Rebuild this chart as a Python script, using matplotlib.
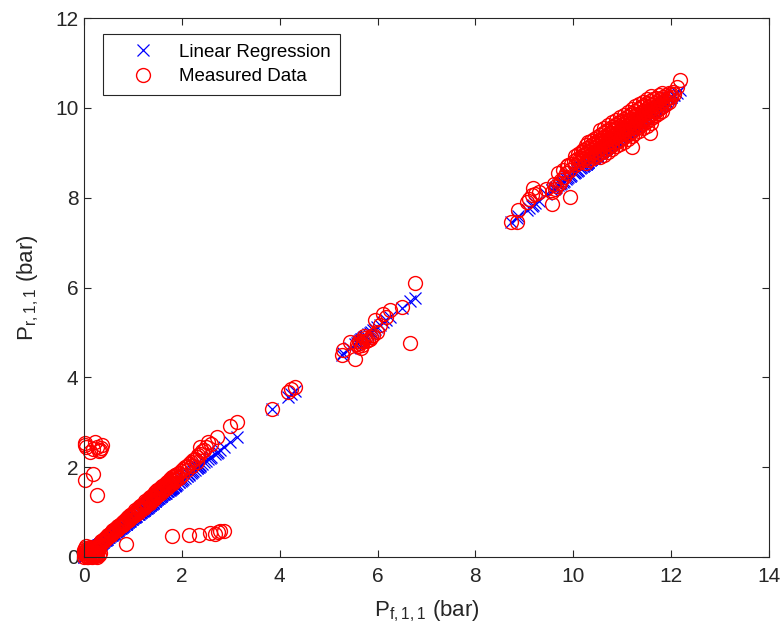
import numpy as np
import matplotlib
matplotlib.use("Agg")
import matplotlib.pyplot as plt

plt.rcParams["font.family"] = ["Liberation Sans", "DejaVu Sans"]
plt.rcParams["mathtext.fontset"] = "custom"
plt.rcParams["mathtext.rm"] = "Liberation Sans"

# ---- measured pressure pairs (bar) ----
# cluster around the origin
zero_x = [0.00, 0.02, 0.04, 0.06, 0.08, 0.10, 0.12, 0.15, 0.18, 0.20, 0.22, 0.25,
          0.28, 0.30, 0.02, 0.05, 0.08, 0.12, 0.16, 0.20, 0.24, 0.00, 0.03, 0.10,
          0.33, 0.30, 0.26, 0.04, 0.07, 0.11, 0.14, 0.17, 0.19, 0.23, 0.27, 0.29,
          0.31, 0.01, 0.13, 0.21, 0.09, 0.06, 0.25]
zero_y = [0.00, 0.05, 0.02, 0.10, 0.15, 0.03, 0.08, 0.12, 0.05, 0.18, 0.10, 0.15,
          0.20, 0.22, 0.20, 0.25, 0.00, 0.22, 0.00, 0.02, 0.05, 0.15, 0.12, 0.18,
          0.10, 0.04, 0.00, 0.08, 0.18, 0.14, 0.03, 0.16, 0.09, 0.20, 0.08, 0.15,
          0.18, 0.12, 0.21, 0.13, 0.06, 0.00, 0.02]

# low-pressure operating band
low_x = [0.30, 0.34, 0.38, 0.42, 0.46, 0.50, 0.54, 0.58, 0.62, 0.66, 0.70, 0.74,
         0.78, 0.82, 0.86, 0.90, 0.94, 0.98, 1.02, 1.06, 1.10, 1.14, 1.18, 1.22,
         1.26, 1.30, 1.34, 1.38, 1.42, 1.46, 1.50, 1.54, 1.58, 1.62, 1.66, 1.70,
         1.74, 1.78, 1.82, 1.86, 1.90, 1.94, 1.98, 2.02, 2.06, 2.10, 2.14, 2.18,
         2.22, 2.26, 2.30, 2.34, 2.38, 2.42, 2.46,
         0.32, 0.38, 0.44, 0.50, 0.56, 0.62, 0.68, 0.74, 0.80, 0.86, 0.92, 0.98,
         1.04, 1.10, 1.16, 1.22, 1.28, 1.34, 1.40, 1.46, 1.52, 1.58, 1.64, 1.70,
         1.76, 1.82, 1.88, 1.94, 2.00, 2.10, 2.20, 2.30,
         0.35, 0.40, 0.45, 0.50, 0.55, 0.60, 0.65, 0.70, 0.75, 0.80, 0.85, 0.90,
         0.95, 1.00, 1.05, 1.10, 1.15, 1.20, 1.25, 1.30, 1.35, 1.40, 1.45, 1.50,
         1.55, 1.60, 1.65, 1.70, 1.75, 1.80, 1.85,
         0.37, 0.42, 0.47, 0.52, 0.57, 0.62, 0.67, 0.72, 0.77, 0.82, 0.87, 0.92,
         0.97, 1.02, 1.07, 1.12, 1.17, 1.22, 1.27, 1.32, 1.37, 1.42, 1.47, 1.52,
         1.57, 1.62, 1.67, 1.72, 1.77, 1.82, 1.87,
         2.37, 2.50, 2.54, 2.60, 2.71, 2.98, 3.12]
low_y = [0.30, 0.33, 0.37, 0.41, 0.45, 0.49, 0.52, 0.57, 0.60, 0.64, 0.68, 0.72,
         0.76, 0.80, 0.83, 0.88, 0.91, 0.95, 0.99, 1.03, 1.07, 1.10, 1.15, 1.18,
         1.22, 1.26, 1.30, 1.34, 1.38, 1.41, 1.46, 1.49, 1.54, 1.57, 1.61, 1.65,
         1.69, 1.72, 1.77, 1.80, 1.84, 1.88, 1.92, 1.96, 2.00, 2.03, 2.08, 2.11,
         2.15, 2.19, 2.23, 2.27, 2.30, 2.35, 2.38,
         0.27, 0.33, 0.39, 0.45, 0.50, 0.56, 0.61, 0.67, 0.72, 0.78, 0.83, 0.89,
         0.94, 0.99, 1.05, 1.10, 1.16, 1.21, 1.27, 1.32, 1.38, 1.43, 1.49, 1.54,
         1.60, 1.65, 1.71, 1.76, 1.82, 1.93, 2.02, 2.12,
         0.35, 0.40, 0.45, 0.50, 0.54, 0.59, 0.64, 0.69, 0.74, 0.79, 0.84, 0.89,
         0.94, 0.99, 1.04, 1.09, 1.14, 1.19, 1.24, 1.29, 1.34, 1.39, 1.44, 1.49,
         1.53, 1.58, 1.63, 1.68, 1.73, 1.78, 1.83,
         0.34, 0.39, 0.44, 0.48, 0.53, 0.58, 0.62, 0.67, 0.72, 0.76, 0.81, 0.86,
         0.90, 0.95, 1.00, 1.04, 1.09, 1.13, 1.18, 1.23, 1.27, 1.32, 1.37, 1.41,
         1.46, 1.51, 1.55, 1.60, 1.65, 1.69, 1.74,
         2.45, 2.45, 2.57, 2.52, 2.68, 2.92, 3.01]

# scattered readings off the main trend
outlier_x = [0.02, 0.04, 0.03, 0.12, 0.18, 0.22, 0.26, 0.30, 0.33, 0.36, 0.34,
             0.02, 0.18, 0.27,
             0.86, 1.80, 2.15, 2.35, 2.58, 2.68, 2.74, 2.78, 2.86]
outlier_y = [2.49, 2.44, 2.53, 2.34, 2.40, 2.57, 2.44, 2.36, 2.38, 2.49, 2.42,
             1.71, 1.85, 1.38,
             0.29, 0.47, 0.48, 0.49, 0.53, 0.52, 0.56, 0.58, 0.58]

# intermediate pressures
mid_x = [3.85, 4.16, 4.23, 4.31,
         5.27, 5.30, 5.54, 5.44, 5.64, 5.67, 5.74, 5.80, 5.86, 5.91, 5.98, 5.95,
         6.05, 6.12, 6.18, 6.25, 6.49, 6.66, 6.76, 5.70, 5.60,
         5.62, 5.68, 5.76, 5.72, 5.84, 5.58]
mid_y = [3.29, 3.68, 3.73, 3.79,
         4.50, 4.61, 4.41, 4.79, 4.76, 4.65, 4.87, 4.84, 4.90, 4.94, 5.02, 5.28,
         5.16, 5.42, 5.35, 5.51, 5.56, 4.76, 6.11, 4.80, 4.70,
         4.82, 4.72, 4.80, 4.92, 4.86, 4.74]

# lead-in to the high-pressure band
tail_x = [8.72, 8.84, 8.88, 9.05, 9.10, 9.15, 9.18, 9.29, 9.22, 9.56, 9.56, 9.62,
          9.73, 9.93, 9.69, 9.80, 9.93, 9.88, 10.20, 10.48, 10.58, 11.19, 11.57,
          9.45, 9.60, 9.75, 9.85, 9.65, 9.78, 9.90,
          12.00, 12.04, 12.11, 12.18]
tail_y = [7.46, 7.46, 7.72, 7.91, 7.98, 8.06, 8.21, 8.13, 8.08, 7.87, 8.13, 8.20,
          8.32, 8.02, 8.54, 8.45, 8.62, 8.70, 9.06, 9.21, 9.28, 9.13, 9.43,
          8.20, 8.30, 8.40, 8.55, 8.25, 8.62, 8.72,
          10.30, 10.36, 10.47, 10.62]

# dense high-pressure band
high_x = [9.95, 10.01, 10.07, 10.13, 10.19, 10.25, 10.31, 10.37, 10.43, 10.49,
          10.55, 10.61, 10.67, 10.73, 10.79, 10.85, 10.91, 10.97, 11.03, 11.09,
          11.15, 11.21, 11.27, 11.33, 11.39, 11.45, 11.51, 11.57, 11.63, 11.69,
          11.75, 11.81, 11.87, 11.93, 11.99, 12.05,
          10.04, 10.10, 10.16, 10.22, 10.28, 10.34, 10.40, 10.46, 10.52, 10.58,
          10.64, 10.70, 10.76, 10.82, 10.88, 10.94, 11.00, 11.06, 11.12, 11.18,
          11.24, 11.30, 11.36, 11.42, 11.48, 11.54, 11.60, 11.66, 11.72, 11.78,
          11.84, 11.90, 11.96,
          10.04, 10.10, 10.16, 10.22, 10.28, 10.34, 10.40, 10.46, 10.52, 10.58,
          10.64, 10.70, 10.76, 10.82, 10.88, 10.94, 11.00, 11.06, 11.12, 11.18,
          11.24, 11.30, 11.36, 11.42, 11.48, 11.54, 11.60, 11.66, 11.72, 11.78,
          11.84, 11.90, 11.96,
          10.25, 10.31, 10.37, 10.43, 10.49, 10.55, 10.61, 10.67, 10.73, 10.79,
          10.85, 10.91, 10.97, 11.03, 11.09, 11.15, 11.21, 11.27, 11.33, 11.39,
          11.45, 11.51, 11.57, 11.63, 11.69, 11.75, 11.81,
          10.25, 10.31, 10.37, 10.43, 10.49, 10.55, 10.61, 10.67, 10.73, 10.79,
          10.85, 10.91, 10.97, 11.03, 11.09, 11.15, 11.21, 11.27, 11.33, 11.39,
          11.45, 11.51, 11.57, 11.63, 11.69, 11.75, 11.81,
          10.55, 10.63, 10.71, 10.79, 10.87, 10.95, 11.03, 11.11, 11.19, 11.27,
          11.35, 11.43, 11.51, 11.59,
          10.55, 10.63, 10.71, 10.79, 10.87, 10.95, 11.03, 11.11, 11.19, 11.27,
          11.35, 11.43, 11.51, 11.59]
high_y = [8.76, 8.81, 8.85, 8.89, 8.94, 8.98, 9.03, 9.07, 9.11, 9.16,
          9.20, 9.25, 9.29, 9.33, 9.38, 9.42, 9.46, 9.51, 9.55, 9.60,
          9.64, 9.68, 9.73, 9.77, 9.81, 9.86, 9.90, 9.95, 9.99, 10.03,
          10.08, 10.12, 10.17, 10.21, 10.25, 10.30,
          8.93, 8.97, 9.02, 9.06, 9.10, 9.15, 9.19, 9.24, 9.28, 9.32,
          9.37, 9.41, 9.45, 9.50, 9.54, 9.59, 9.63, 9.67, 9.72, 9.76,
          9.81, 9.85, 9.89, 9.94, 9.98, 10.02, 10.07, 10.11, 10.16, 10.20,
          10.24, 10.29, 10.33,
          8.73, 8.77, 8.82, 8.86, 8.90, 8.95, 8.99, 9.04, 9.08, 9.12,
          9.17, 9.21, 9.25, 9.30, 9.34, 9.39, 9.43, 9.47, 9.52, 9.56,
          9.61, 9.65, 9.69, 9.74, 9.78, 9.82, 9.87, 9.91, 9.96, 10.00,
          10.04, 10.09, 10.13,
          9.18, 9.23, 9.27, 9.31, 9.36, 9.40, 9.45, 9.49, 9.53, 9.58,
          9.62, 9.66, 9.71, 9.75, 9.80, 9.84, 9.88, 9.93, 9.97, 10.01,
          10.06, 10.10, 10.15, 10.19, 10.23, 10.28, 10.32,
          8.78, 8.83, 8.87, 8.91, 8.96, 9.00, 9.05, 9.09, 9.13, 9.18,
          9.22, 9.26, 9.31, 9.35, 9.40, 9.44, 9.48, 9.53, 9.57, 9.61,
          9.66, 9.70, 9.75, 9.79, 9.83, 9.88, 9.92,
          9.50, 9.56, 9.62, 9.68, 9.74, 9.79, 9.85, 9.91, 9.97, 10.03,
          10.09, 10.14, 10.20, 10.26,
          8.90, 8.96, 9.02, 9.08, 9.14, 9.19, 9.25, 9.31, 9.37, 9.43,
          9.49, 9.54, 9.60, 9.66]

# fitted line P_r = slope * P_f + intercept
slope = 0.853
intercept = 0.01

pf = np.array(zero_x + low_x + outlier_x + mid_x + tail_x + high_x)
pr = np.array(zero_y + low_y + outlier_y + mid_y + tail_y + high_y)
pr_fit = slope * pf + intercept

fig = plt.figure(figsize=(7.83, 6.27), dpi=100)
ax = fig.add_axes([84 / 783, 70 / 627, 685 / 783, 539 / 627])

ax.plot(pf, pr_fit, linestyle="none", marker="x", color=(0, 0, 1),
        markersize=8.5, markeredgewidth=0.9, label="Linear Regression",
        clip_on=False)
ax.plot(pf, pr, linestyle="none", marker="o", markerfacecolor="none",
        markeredgecolor=(1, 0, 0), markersize=10, markeredgewidth=1.0,
        label="Measured Data", clip_on=False)

ax.set_xlim(0, 14)
ax.set_ylim(0, 12)
ax.set_xticks(np.arange(0, 15, 2))
ax.set_yticks(np.arange(0, 13, 2))

dark = (0.15, 0.15, 0.15)
for s in ax.spines.values():
    s.set_color(dark)
    s.set_linewidth(0.8)
ax.tick_params(direction="in", top=True, right=True, length=5, width=0.8,
               colors=dark, labelsize=15)
ax.tick_params(axis="y", pad=4)
ax.tick_params(axis="x", pad=7)

ax.set_xlabel(r"$\mathregular{P_{f,1,1}}$ (bar)", fontsize=16, color=dark,
              labelpad=9)
ax.set_ylabel(r"$\mathregular{P_{r,1,1}}$ (bar)", fontsize=16, color=dark,
              labelpad=10)

leg = ax.legend(loc="upper left", bbox_to_anchor=(0.0277, 0.9703),
                borderaxespad=0, fontsize=13.5, frameon=True, fancybox=False,
                handlelength=3.25, handletextpad=0.3, borderpad=0.5,
                labelspacing=0.4)
leg.get_frame().set_edgecolor(dark)
leg.get_frame().set_linewidth(0.8)
leg.get_frame().set_alpha(1)

fig.savefig("out.png", dpi=100)
